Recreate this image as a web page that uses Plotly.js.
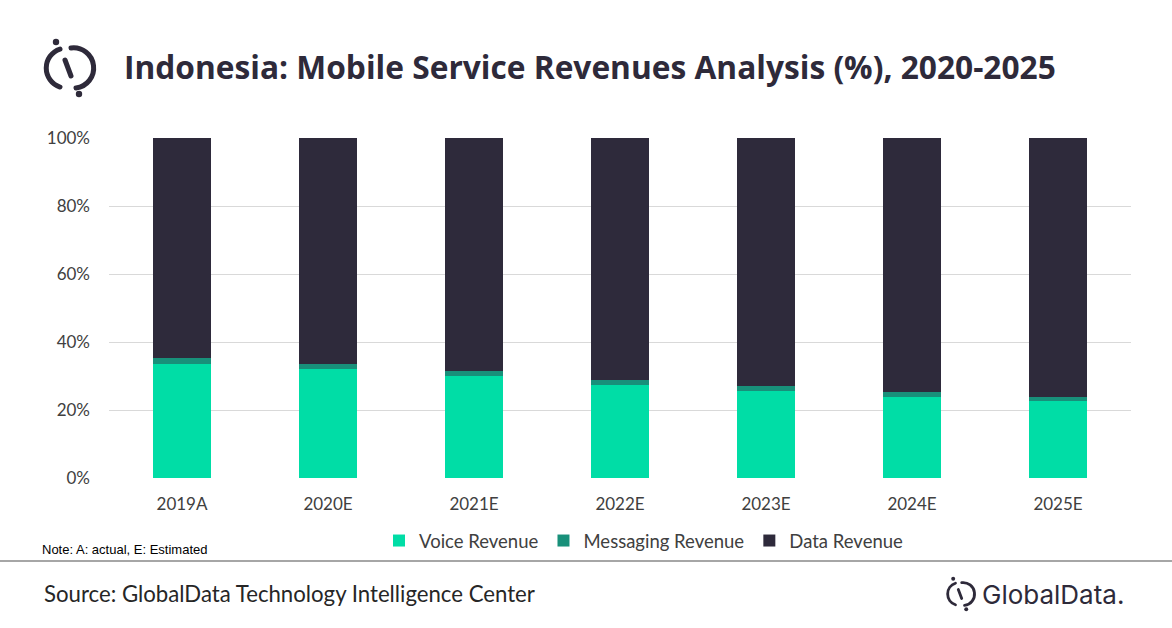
<!DOCTYPE html>
<html>
<head>
<meta charset="utf-8">
<script src="https://cdn.plot.ly/plotly-3.0.1.min.js"></script>
<style>
html,body{margin:0;padding:0;background:#fff;}
#wrap{position:relative;width:1172px;height:628px;}
#chart{position:absolute;left:0;top:0;width:1172px;height:628px;}
svg.logo{position:absolute;}
</style>
</head>
<body>
<div id="wrap">
<div id="chart"></div>
<svg class="logo" style="left:38px;top:38px" width="60" height="60" viewBox="0 0 60 60">
  <path d="M 22 11 A 20 20 0 0 0 22 49" fill="none" stroke="#2E2A3A" stroke-width="5" stroke-linecap="round"/>
  <path d="M 33 10 A 20 20 0 0 1 38 50" fill="none" stroke="#2E2A3A" stroke-width="5" stroke-linecap="round"/>
  <path d="M 27 22 L 33 38" fill="none" stroke="#2E2A3A" stroke-width="5" stroke-linecap="round"/>
  <circle cx="18" cy="4" r="3.2" fill="#2E2A3A"/>
  <circle cx="41" cy="56" r="3.2" fill="#2E2A3A"/>
</svg>
<svg class="logo" style="left:943px;top:575px" width="34" height="38" viewBox="0 0 60 66">
  <path d="M 22 14 A 20 20 0 0 0 22 52" fill="none" stroke="#2E2A3A" stroke-width="5" stroke-linecap="round"/>
  <path d="M 33 13 A 20 20 0 0 1 38 53" fill="none" stroke="#2E2A3A" stroke-width="5" stroke-linecap="round"/>
  <path d="M 27 25 L 33 41" fill="none" stroke="#2E2A3A" stroke-width="5" stroke-linecap="round"/>
  <circle cx="18" cy="6" r="3.5" fill="#2E2A3A"/>
  <circle cx="41" cy="60" r="3.5" fill="#2E2A3A"/>
</svg>
</div>
<script>
const categories = ["2019A", "2020E", "2021E", "2022E", "2023E", "2024E", "2025E"];
const voiceRevenue = [33.6, 32.1, 30.1, 27.4, 25.6, 23.8, 22.7];
const messagingRevenue = [1.8, 1.5, 1.4, 1.5, 1.5, 1.5, 1.1];
const dataRevenue = [64.6, 66.4, 68.5, 71.1, 72.9, 74.7, 76.2];
const yTickVals = [0, 20, 40, 60, 80, 100];
const yTickText = ["0%", "20%", "40%", "60%", "80%", "100%"];

const W = 1172, H = 628;
const L = 109, R = 1131, T = 138, B = 478;
const px = x => (x - L) / (R - L);
const py = y => (B - y) / (B - T);

const traces = [
  {type: "bar", name: "Voice Revenue", x: categories, y: voiceRevenue, marker: {color: "#00DDA6"}},
  {type: "bar", name: "Messaging Revenue", x: categories, y: messagingRevenue, marker: {color: "#18907A"}},
  {type: "bar", name: "Data Revenue", x: categories, y: dataRevenue, marker: {color: "#2E2A3B"}}
];

const layout = {
  width: W, height: H,
  margin: {l: L, r: W - R, t: T, b: H - B, pad: 0},
  paper_bgcolor: "#fff", plot_bgcolor: "#fff",
  barmode: "stack",
  bargap: 0.6,
  showlegend: true,
  title: {
    text: "<b>Indonesia: Mobile Service Revenues Analysis (%), 2020-2025</b>",
    x: 124 / W, xanchor: "left", xref: "container",
    y: 1 - 68 / H, yanchor: "middle", yref: "container",
    font: {family: "Open Sans, sans-serif", size: 31.7, color: "#2E2A3A"}
  },
  xaxis: {
    type: "category",
    showgrid: false, zeroline: false, showline: false,
    ticks: "", ticklabelstandoff: 14,
    tickfont: {family: "Lato, sans-serif", size: 17, color: "#404040"}
  },
  yaxis: {
    range: [0, 100],
    tickvals: yTickVals, ticktext: yTickText,
    showgrid: true, gridcolor: "#D9D9D9", gridwidth: 1,
    zeroline: false, showline: false, ticks: "",
    ticklabelstandoff: 18,
    tickfont: {family: "Lato, sans-serif", size: 17, color: "#404040"}
  },
  legend: {
    orientation: "h",
    traceorder: "normal",
    x: px(644), xanchor: "center",
    y: py(541), yanchor: "middle",
    font: {family: "Lato, sans-serif", size: 18.5, color: "#404040"},
    itemwidth: 30,
    tracegroupgap: 0,
    bgcolor: "rgba(0,0,0,0)"
  },
  shapes: [
    {type: "line", xref: "paper", yref: "paper", x0: px(0), x1: px(W), y0: py(561), y1: py(561),
     line: {color: "#A6A6A6", width: 2}}
  ],
  annotations: [
    {text: "Note: A: actual, E: Estimated", xref: "paper", yref: "paper", x: px(40), y: py(549),
     xanchor: "left", yanchor: "middle", showarrow: false,
     font: {family: "Liberation Sans Narrow, Liberation Sans, sans-serif", size: 13, color: "#000"}},
    {text: "Source: GlobalData Technology Intelligence Center", xref: "paper", yref: "paper", x: px(42), y: py(593),
     xanchor: "left", yanchor: "middle", showarrow: false,
     font: {family: "Lato, sans-serif", size: 22.2, color: "#262626"}},
    {text: "GlobalData.", xref: "paper", yref: "paper", x: px(980), y: py(594),
     xanchor: "left", yanchor: "middle", showarrow: false,
     font: {family: "Inter, sans-serif", size: 26, color: "#2E2A3A"}}
  ]
};

Plotly.newPlot("chart", traces, layout, {displayModeBar: false, staticPlot: true});
</script>
</body>
</html>
